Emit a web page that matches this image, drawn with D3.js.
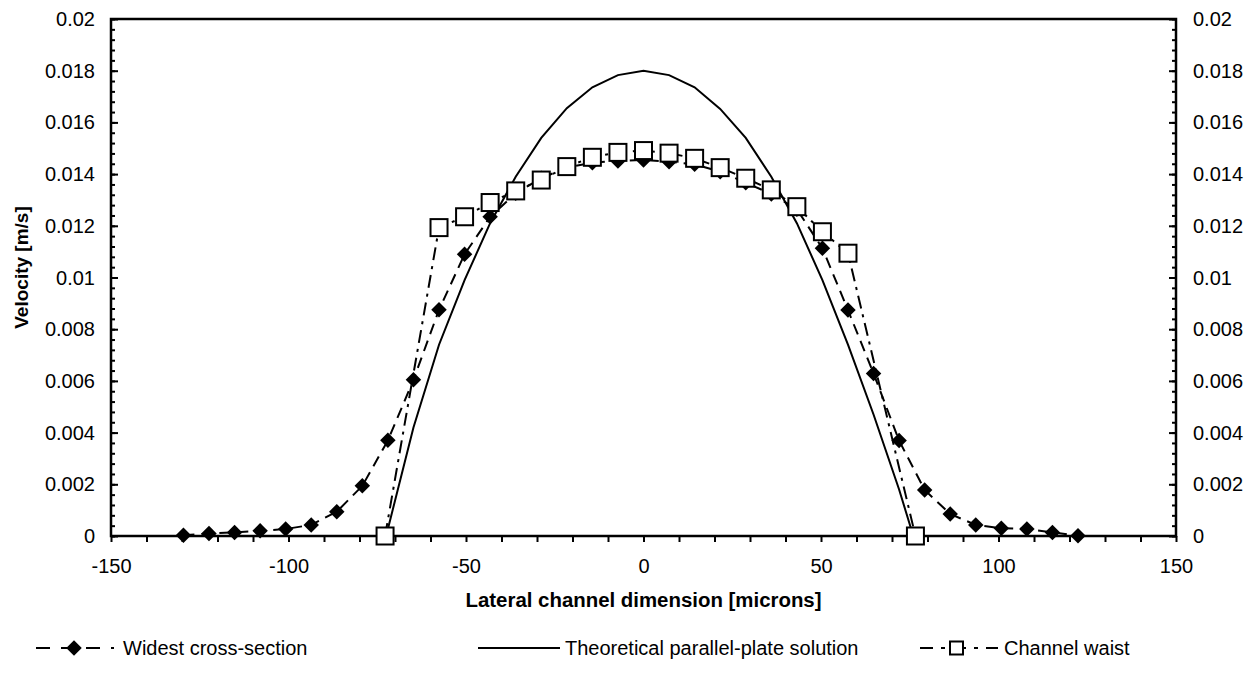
<!DOCTYPE html>
<html>
<head>
<meta charset="utf-8">
<script src="https://cdn.jsdelivr.net/npm/d3@7"></script>
<style>
  body { margin: 0; background: #fff; }
  svg text { font-family: "Liberation Sans", Arial, sans-serif; fill: #000; }
</style>
</head>
<body>
<div id="chart"></div>
<script>
(function() {
  var W = 1254, H = 686;
  var margin = { top: 19, left: 111, right: 78, bottom: 150 },
    width = W - margin.left - margin.right,
    height = H - margin.top - margin.bottom;

  // widest cross-section (diamonds)
  var widestX = [-129.6, -122.4, -115.2, -108, -100.8, -93.6, -86.4, -79.2, -72, -64.8, -57.6, -50.4,
    -43.2, -36, -28.8, -21.6, -14.4, -7.2, 0, 7.2, 14.4, 21.6, 28.8, 36,
    43.2, 50.4, 57.6, 64.8, 72, 79.2, 86.4, 93.6, 100.8, 108, 115.2, 122.4]
  var widestV = [0.00003, 0.0001, 0.00014, 0.0002, 0.00027, 0.00043, 0.00094, 0.00194, 0.0037, 0.00604, 0.00875, 0.0109,
    0.01235, 0.01326, 0.01384, 0.01426, 0.01444, 0.01451, 0.01455, 0.01448, 0.01438, 0.01409, 0.01367, 0.01323,
    0.01264, 0.01113, 0.00874, 0.00629, 0.00369, 0.00178, 0.00085, 0.00043, 0.0003, 0.00027, 0.00014, 0.00001]

  // theoretical parallel-plate solution (solid line)
  var theoryX = [-72.5, -64.8, -57.6, -50.4, -43.2, -36, -28.8, -21.6, -14.4, -7.2, 0,
    7.2, 14.4, 21.6, 28.8, 36, 43.2, 50.4, 57.6, 64.8, 72, 76]
  var theoryV = [0, 0.0042, 0.0074, 0.0099, 0.0121, 0.0139, 0.0154, 0.01655, 0.01736, 0.01783, 0.018,
    0.01783, 0.01736, 0.01652, 0.0154, 0.0139, 0.0121, 0.0099, 0.0074, 0.0047, 0.0018, 0]

  // channel waist (squares)
  var waistX = [-72.8, -57.6, -50.4, -43.2, -36, -28.8, -21.6, -14.4, -7.2, 0,
    7.2, 14.4, 21.6, 28.8, 36, 43.2, 50.4, 57.6, 76.6]
  var waistV = [0, 0.01193, 0.01235, 0.0129, 0.01335, 0.01377, 0.01429, 0.01465, 0.01484, 0.01491,
    0.01481, 0.01461, 0.01425, 0.01384, 0.01339, 0.01274, 0.01177, 0.01094, 0]

  var xTicks = [-150, -100, -50, 0, 50, 100, 150]
  var yTicks = [0, 0.002, 0.004, 0.006, 0.008, 0.01, 0.012, 0.014, 0.016, 0.018, 0.02]
  var yTickLabels = ["0", "0.002", "0.004", "0.006", "0.008", "0.01", "0.012", "0.014", "0.016", "0.018", "0.02"]

  var legendNames = ["Widest cross-section", "Theoretical parallel-plate solution", "Channel waist"]

  var svg = d3.select("#chart")
        .append("svg")
        .attr("width", W)
        .attr("height", H)
        .append("g")
        .attr("transform", "translate(" + margin.left + "," + margin.top + ")");

  var x = d3.scaleLinear().domain([-150, 150]).range([0, width])
  var y = d3.scaleLinear().domain([0, 0.02]).range([height, 0])

  function zip(xs, vs) {
    return xs.map(function(d, i) { return { x: d, v: vs[i] } })
  }
  var widest = zip(widestX, widestV),
      theory = zip(theoryX, theoryV),
      waist = zip(waistX, waistV)

  var line = d3.line().x(function(d) { return x(d.x) }).y(function(d) { return y(d.v) })

  // minor ticks
  var xMinor = d3.range(-150, 151, 10)
  var yMinor = d3.range(0, 51).map(function(i) { return i * 0.0004 })

  // axes
  var xAxis = d3.axisBottom(x).tickValues(xMinor).tickSize(6)
    .tickFormat(function(d) { return xTicks.indexOf(d) >= 0 ? d : "" })
  svg.append("g")
    .attr("class", "axis x-axis")
    .attr("transform", "translate(0," + height + ")")
    .call(xAxis)

  var yLeft = d3.axisRight(y).tickValues(yMinor).tickSize(4).tickFormat("")
  svg.append("g").attr("class", "axis").call(yLeft)
  var yLeftMajor = d3.axisRight(y).tickValues(yTicks).tickSize(7).tickFormat("")
  svg.append("g").attr("class", "axis").call(yLeftMajor)

  var yRight = d3.axisLeft(y).tickValues(yMinor).tickSize(4).tickFormat("")
  svg.append("g").attr("class", "axis").attr("transform", "translate(" + width + ",0)").call(yRight)
  var yRightMajor = d3.axisLeft(y).tickValues(yTicks).tickSize(7).tickFormat("")
  svg.append("g").attr("class", "axis").attr("transform", "translate(" + width + ",0)").call(yRightMajor)

  svg.selectAll(".axis path").remove()
  svg.selectAll(".axis line").attr("stroke", "#000").attr("stroke-width", 2)
  svg.selectAll(".x-axis text").attr("font-size", 20).attr("dy", "0.85em").attr("y", 20)

  // tick labels for y, both sides
  svg.selectAll(".ylab-left")
    .data(yTicks)
    .enter().append("text")
    .attr("x", -16)
    .attr("y", function(d) { return y(d) })
    .attr("dy", "0.35em")
    .attr("text-anchor", "end")
    .attr("font-size", 20)
    .text(function(d, i) { return yTickLabels[i] })
  svg.selectAll(".ylab-right")
    .data(yTicks)
    .enter().append("text")
    .attr("x", width + 17)
    .attr("y", function(d) { return y(d) })
    .attr("dy", "0.35em")
    .attr("font-size", 20)
    .text(function(d, i) { return yTickLabels[i] })

  // frame
  svg.append("rect")
    .attr("width", width).attr("height", height)
    .attr("fill", "none").attr("stroke", "#000").attr("stroke-width", 2.5)

  // lines
  svg.append("path").datum(theory).attr("d", line)
    .attr("fill", "none").attr("stroke", "#000").attr("stroke-width", 2)
  svg.append("path").datum(widest).attr("d", line)
    .attr("fill", "none").attr("stroke", "#000").attr("stroke-width", 2)
    .attr("stroke-dasharray", "11,7")
  svg.append("path").datum(waist).attr("d", line)
    .attr("fill", "none").attr("stroke", "#000").attr("stroke-width", 2)
    .attr("stroke-dasharray", "13,6,3,6")

  var diamond = d3.symbol().type(d3.symbolSquare).size(120)

  svg.selectAll(".diamond")
    .data(widest)
    .enter().append("path")
    .attr("d", diamond)
    .attr("transform", function(d) { return "translate(" + x(d.x) + "," + y(d.v) + ") rotate(45)" })
    .attr("fill", "#000")

  svg.selectAll(".sq")
    .data(waist)
    .enter().append("rect")
    .attr("x", function(d) { return x(d.x) - 8.5 })
    .attr("y", function(d) { return y(d.v) - 8.5 })
    .attr("width", 17).attr("height", 17)
    .attr("fill", "#fff").attr("stroke", "#000").attr("stroke-width", 2)

  // axis titles
  svg.append("text")
    .attr("x", width / 2)
    .attr("y", height + 71)
    .attr("text-anchor", "middle")
    .attr("font-size", 20).attr("font-weight", "bold")
    .attr("textLength", 356).attr("lengthAdjust", "spacingAndGlyphs")
    .text("Lateral channel dimension [microns]")
  svg.append("text")
    .attr("transform", "translate(" + (-83) + "," + (height / 2 - 10) + ") rotate(-90)")
    .attr("text-anchor", "middle")
    .attr("font-size", 19).attr("font-weight", "bold")
    .text("Velocity [m/s]")

  // legend
  var leg = d3.select("svg").append("g").attr("transform", "translate(0,648)")
  var legX = [36, 478, 920]
  var legTextX = [123, 565, 1004]

  leg.append("line").attr("x1", legX[0]).attr("x2", legX[0] + 78).attr("y1", 0).attr("y2", 0)
    .attr("stroke", "#000").attr("stroke-width", 2).attr("stroke-dasharray", "14,11")
  leg.append("path").attr("d", diamond)
    .attr("transform", "translate(" + (legX[0] + 38) + ",0) rotate(45)")
  leg.append("line").attr("x1", legX[1]).attr("x2", legX[1] + 82).attr("y1", 0).attr("y2", 0)
    .attr("stroke", "#000").attr("stroke-width", 2)
  leg.append("line").attr("x1", legX[2]).attr("x2", legX[2] + 78).attr("y1", 0).attr("y2", 0)
    .attr("stroke", "#000").attr("stroke-width", 2).attr("stroke-dasharray", "13,8,4,8")
  leg.append("rect").attr("x", legX[2] + 30).attr("y", -6.5).attr("width", 13).attr("height", 13)
    .attr("fill", "#fff").attr("stroke", "#000").attr("stroke-width", 2)

  leg.selectAll("text")
    .data(legendNames)
    .enter().append("text")
    .attr("x", function(d, i) { return legTextX[i] })
    .attr("y", 0)
    .attr("dy", "0.35em")
    .attr("font-size", 20)
    .text(function(d) { return d })
})();
</script>
</body>
</html>
